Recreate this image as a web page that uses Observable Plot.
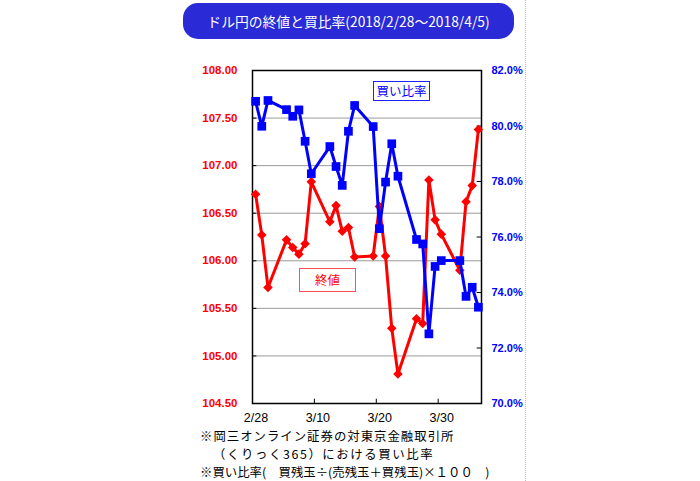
<!DOCTYPE html>
<html><head><meta charset="utf-8">
<script src="https://cdn.jsdelivr.net/npm/d3@7"></script>
<script src="https://cdn.jsdelivr.net/npm/@observablehq/plot@0.6"></script>
<style>
body{margin:0;background:#fff;}
#wrap{position:relative;width:700px;height:481px;overflow:hidden;font-family:"Noto Sans CJK JP","Noto Sans",sans-serif;}
#title{position:absolute;left:183px;top:3px;width:331px;height:36px;border-radius:15px;background:#2a2ad6;color:#fff;font-size:13.8px;line-height:36px;text-align:center;}
.legend{position:absolute;font-size:12.5px;text-align:center;box-sizing:border-box;background:#fff;}
#lgBlue{left:373px;top:81px;width:57px;height:20px;line-height:17px;border:1.5px solid #2020ff;color:#0000ff;}
#lgRed{left:299px;top:268px;width:57px;height:24px;line-height:21px;border:1.5px solid #ff5050;color:#ff0000;}
.note{position:absolute;font-size:12.4px;color:#000;white-space:pre;line-height:13px;height:13px;}
#sep{position:absolute;left:525px;top:0;height:481px;border-left:1px dotted #bbb;}
</style></head>
<body><div id="wrap">
<div id="chart"></div>
<div id="title">ドル円の終値と買比率(2018/2/28～2018/4/5)</div>
<div id="lgBlue" class="legend">買い比率</div>
<div id="lgRed" class="legend">終値</div>
<div class="note" style="left:200px;top:429.5px;letter-spacing:1px">※岡三オンライン証券の対東京金融取引所</div>
<div class="note" style="left:213px;top:448px;letter-spacing:1.6px">（くりっく365）における買い比率</div>
<div class="note" style="left:200px;top:466px">※買い比率(　買残玉÷(売残玉＋買残玉)×１００　)</div>
<div id="sep"></div>
</div>
<script>
// ---- data ----
const dates = ["2018-02-28","2018-03-01","2018-03-02","2018-03-05","2018-03-06","2018-03-07","2018-03-08","2018-03-09",
  "2018-03-12","2018-03-13","2018-03-14","2018-03-15","2018-03-16","2018-03-19","2018-03-20","2018-03-21","2018-03-22","2018-03-23",
  "2018-03-26","2018-03-27","2018-03-28","2018-03-29","2018-03-30","2018-04-02","2018-04-03","2018-04-04","2018-04-05"];
const closeValues = [106.70,106.27,105.72,106.22,106.14,106.07,106.18,106.83,
  106.41,106.58,106.31,106.35,106.04,106.05,106.57,106.05,105.29,104.81,
  105.39,105.34,106.85,106.43,106.28,105.90,106.62,106.79,107.38];
const buyRatio = [80.89,79.99,80.92,80.59,80.35,80.58,79.45,78.28,
  79.26,78.54,77.86,79.81,80.74,79.98,76.30,77.98,79.36,78.19,
  75.91,75.75,72.51,74.94,75.15,75.15,73.86,74.19,73.47];
const leftTicks = [104.5,105.0,105.5,106.0,106.5,107.0,107.5,108.0];
const leftTickLabels = ["104.50","105.00","105.50","106.00","106.50","107.00","107.50","108.00"];
const rightTicks = [70,72,74,76,78,80,82];
const rightTickLabels = ["70.0%","72.0%","74.0%","76.0%","78.0%","80.0%","82.0%"];
const xTickDates = ["2018-02-28","2018-03-10","2018-03-20","2018-03-30"];
const xTickLabels = ["2/28","3/10","3/20","3/30"];

// ---- build ----
const DAY = 864e5;
const parse = s => new Date(s + "T00:00:00Z");
const x0 = parse("2018-02-28"), x1 = parse("2018-04-06");
const yMin = 104.5, yMax = 108, pMin = 70, pMax = 82;
const toLeft = p => yMin + (p - pMin) * (yMax - yMin) / (pMax - pMin);
const rows = dates.map((d, i) => ({date: new Date(parse(d).getTime() + DAY / 2), close: closeValues[i], ratio: toLeft(buyRatio[i])}));
const leftLabel = new Map(leftTicks.map((t, i) => [t, leftTickLabels[i]]));
const rightPos = rightTicks.map(toLeft);
const rightLabel = new Map(rightPos.map((t, i) => [t, rightTickLabels[i]]));
const xTicks = xTickDates.map(parse);
const xLabel = new Map(xTicks.map((t, i) => [+t, xTickLabels[i]]));
const tickLen = 0.7 * DAY;
const tickLenY = 0.045;

const chart = Plot.plot({
  width: 700, height: 481,
  marginLeft: 252, marginRight: 219, marginTop: 70, marginBottom: 78,
  style: {fontFamily: "Liberation Sans, Arial, sans-serif", background: "transparent"},
  x: {type: "utc", domain: [x0, x1]},
  y: {domain: [yMin, yMax]},
  marks: [
    Plot.gridY(leftTicks.slice(1, -1), {stroke: "#9a9a9a", strokeOpacity: 1, strokeWidth: 1}),
    Plot.ruleY(leftTicks, {x1: x0, x2: new Date(+x0 + tickLen), stroke: "black"}),
    Plot.ruleY(rightPos, {x1: new Date(+x1 - tickLen), x2: x1, stroke: "black"}),
    Plot.ruleX(xTicks, {y1: yMin, y2: yMin + tickLenY, stroke: "black"}),
    Plot.frame({stroke: "black", strokeWidth: 1.5}),
    Plot.axisY(leftTicks, {anchor: "left", tickSize: 0, tickPadding: 15, tickFormat: d => leftLabel.get(d),
      fill: "#ff0000", fontWeight: "bold", fontSize: 11.5}),
    Plot.axisY(rightPos, {anchor: "right", tickSize: 0, tickPadding: 10, tickFormat: d => rightLabel.get(d),
      fill: "#0000ff", fontWeight: "bold", fontSize: 11, label: null}),
    Plot.axisX(xTicks, {tickSize: 0, tickPadding: 10, dx: 3.5, tickFormat: d => xLabel.get(+d),
      fill: "black", fontSize: 12.5, label: null}),
    Plot.line(rows, {x: "date", y: "close", stroke: "#ff0000", strokeWidth: 3}),
    Plot.dot(rows, {x: "date", y: "close", symbol: "diamond2", fill: "#ff0000", stroke: "none", r: 4.3}),
    Plot.line(rows, {x: "date", y: "ratio", stroke: "#0000ff", strokeWidth: 3}),
    Plot.dot(rows, {x: "date", y: "ratio", symbol: "square", fill: "#0000ff", stroke: "none", r: 4.9})
  ]
});
document.getElementById("chart").appendChild(chart);
</script>
</body></html>
